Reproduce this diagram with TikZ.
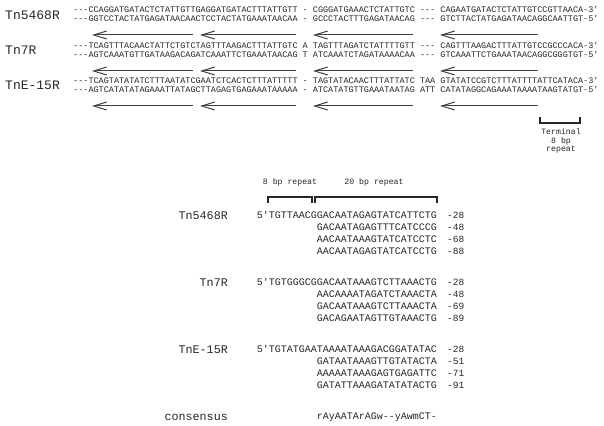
\documentclass[tikz,border=0pt]{standalone}
\usepackage{fontspec}
\setmonofont{Liberation Mono}
\usetikzlibrary{arrows.meta}
\tikzset{
	seqtop/.style={font=\ttfamily\fontsize{8.5}{8.5}\selectfont, inner sep=0pt, anchor=base west, text=black!85},
	seqlow/.style={font=\ttfamily\fontsize{10}{10}\selectfont, inner sep=0pt, anchor=base east, text=black!85},
	numlow/.style={font=\ttfamily\fontsize{9.5}{9.5}\selectfont, inner sep=0pt, anchor=base west, text=black!85},
	labtop/.style={font=\ttfamily\fontsize{13}{13}\selectfont, inner sep=0pt, anchor=base west, text=black!85},
	lablow/.style={font=\ttfamily\fontsize{11.7}{11.7}\selectfont, inner sep=0pt, anchor=base east, text=black!85},
	smalltxt/.style={font=\ttfamily\fontsize{8.2}{8.2}\selectfont, inner sep=0pt, anchor=base, text=black!85},
	rep/.style={line width=1pt, draw=black!75, -{Straight Barb[length=13pt,width=8pt]}},
	brk/.style={line width=1.4pt, draw=black!85}
}
\begin{document}
\begin{tikzpicture}[x=1pt,y=-1pt]
	\useasboundingbox (0,0) rectangle (604,425);
	% Namen oben
	\node[labtop] (t5468) at (5,20) {Tn5468R};
	\node[labtop] (t7) at (5,55) {Tn7R};
	\node[labtop] (tE15) at (5,90) {TnE-15R};

	% Sequenzen oben
	\node[seqtop] (s5468a) at (73,12.5) {---CCAGGATGATACTCTATTGTTGAGGATGATACTTTATTGTT - CGGGATGAAACTCTATTGTC --- CAGAATGATACTCTATTGTCCGTTAACA-3'};
	\node[seqtop] (s5468b) at (73,21.5) {---GGTCCTACTATGAGATAACAACTCCTACTATGAAATAACAA - GCCCTACTTTGAGATAACAG --- GTCTTACTATGAGATAACAGGCAATTGT-5'};
	\node[seqtop] (s7a) at (73,48.5) {---TCAGTTTACAACTATTCTGTCTAGTTTAAGACTTTATTGTC A TAGTTTAGATCTATTTTGTT --- CAGTTTAAGACTTTATTGTCCGCCCACA-3'};
	\node[seqtop] (s7b) at (73,57.5) {---AGTCAAATGTTGATAAGACAGATCAAATTCTGAAATAACAG T ATCAAATCTAGATAAAACAA --- GTCAAATTCTGAAATAACAGGCGGGTGT-5'};
	\node[seqtop] (sE15a) at (73,83.5) {---TCAGTATATATCTTTAATATCGAATCTCACTCTTTATTTTT - TAGTATACAACTTTATTATC TAA GTATATCCGTCTTTATTTTATTCATACA-3'};
	\node[seqtop] (sE15b) at (73,92.5) {---AGTCATATATAGAAATTATAGCTTAGAGTGAGAAATAAAAA - ATCATATGTTGAAATAATAG ATT CATATAGGCAGAAATAAAATAAGTATGT-5'};

	% Pfeile
	\foreach \y [count=\r] in {35,71,106}
		\foreach \xs/\xe [count=\i] in {193/92, 296/200, 413/313, 538/440} {
			\coordinate (p\r\i s) at (\xs,\y);
			\coordinate (p\r\i e) at (\xe,\y);
			\draw[rep] (p\r\i s) -- (p\r\i e);
		}

	% Terminal 8 bp repeat
	\coordinate (ta) at (540,117);
	\coordinate (tb) at (580,117);
	\draw[brk] (ta) -- ++(0,6) -| (tb);
	\node[smalltxt] (term1) at (561,134) {Terminal};
	\node[smalltxt] (term2) at (561,143) {8 bp};
	\node[smalltxt] (term3) at (561,151) {repeat};

	% Klammern unten
	\node[smalltxt] (r8) at (290,184) {8 bp repeat};
	\node[smalltxt] (r20) at (374,184) {20 bp repeat};
	\coordinate (b8a) at (268,203);
	\coordinate (b8b) at (312,203);
	\coordinate (b20a) at (315,203);
	\coordinate (b20b) at (437,203);
	\draw[brk] (b8a) -- ++(0,-6) -| (b8b);
	\draw[brk] (b20a) -- ++(0,-6) -| (b20b);

	% Namen unten
	\node[lablow] (l5468) at (228,219) {Tn5468R};
	\node[lablow] (l7) at (228,286) {Tn7R};
	\node[lablow] (lE15) at (228,353) {TnE-15R};
	\node[lablow] (lcons) at (228,420) {consensus};

	% Sequenzen unten
	\node[seqlow] (q5468a) at (437,218) {5'TGTTAACGGACAATAGAGTATCATTCTG};
	\node[seqlow] (q5468b) at (437,230) {GACAATAGAGTTTCATCCCG};
	\node[seqlow] (q5468c) at (437,242) {AACAATAAAGTATCATCCTC};
	\node[seqlow] (q5468d) at (437,254) {AACAATAGAGTATCATCCTG};
	\node[seqlow] (q7a) at (437,285) {5'TGTGGGCGGACAATAAAGTCTTAAACTG};
	\node[seqlow] (q7b) at (437,297) {AACAAAATAGATCTAAACTA};
	\node[seqlow] (q7c) at (437,309) {GACAATAAAGTCTTAAACTA};
	\node[seqlow] (q7d) at (437,321) {GACAGAATAGTTGTAAACTG};
	\node[seqlow] (qE15a) at (437,352) {5'TGTATGAATAAAATAAAGACGGATATAC};
	\node[seqlow] (qE15b) at (437,364) {GATAATAAAGTTGTATACTA};
	\node[seqlow] (qE15c) at (437,376) {AAAAATAAAGAGTGAGATTC};
	\node[seqlow] (qE15d) at (437,388) {GATATTAAAGATATATACTG};
	\node[seqlow] (qcons) at (437,419) {rAyAATArAGw--yAwmCT-};

	% Positionen
	\foreach \y/\n [count=\k] in {218/-28, 230/-48, 242/-68, 254/-88, 285/-28, 297/-48, 309/-69, 321/-89, 352/-28, 364/-51, 376/-71, 388/-91}
		\node[numlow] (n\k) at (447,\y) {\n};
\end{tikzpicture}
\end{document}
